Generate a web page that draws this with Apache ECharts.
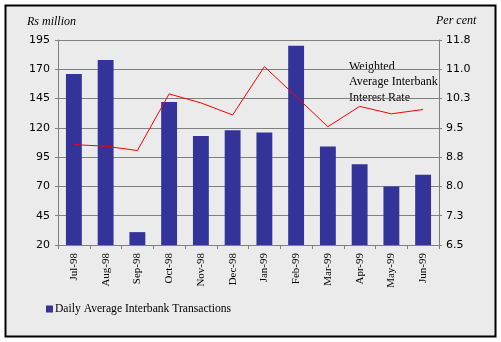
<!DOCTYPE html>
<html><head><meta charset="utf-8">
<script src="https://cdn.jsdelivr.net/npm/echarts@6/dist/echarts.min.js"></script>
<style>html,body{margin:0;padding:0;background:#fff}#c{width:501px;height:342px}</style>
</head><body><div id="c"></div>
<script>
const categories = ['Jul-98','Aug-98','Sep-98','Oct-98','Nov-98','Dec-98','Jan-99','Feb-99','Mar-99','Apr-99','May-99','Jun-99'];
const transactions = [166, 178, 31, 142, 113, 118, 116, 190, 104, 89, 70, 80];
const interestRate = [9.07, 9.03, 8.92, 10.37, 10.14, 9.83, 11.07, 10.3, 9.53, 10.05, 9.86, 9.97];
const leftTicks = {min: 20, max: 195, interval: 25};
const rightTicks = {min: 6.5, max: 11.75, interval: 0.75};

const chart = echarts.init(document.getElementById('c'), null, {renderer: 'canvas'});
const serif = '"Liberation Serif", "DejaVu Serif", serif';
const sans = '"DejaVu Sans", Verdana, sans-serif';
chart.setOption({
  animation: false,
  backgroundColor: '#ffffff',
  graphic: [
    {type: 'rect', z: -10, silent: true, shape: {x: 5.5, y: 5.5, width: 490, height: 331},
     style: {fill: '#EBEBEB', stroke: '#000', lineWidth: 2}},
    {type: 'text', left: 27, top: 16, style: {text: 'Rs million', font: 'italic 12px ' + serif, fill: '#000'}},
    {type: 'text', left: 436, top: 15, style: {text: 'Per cent', font: 'italic 12px ' + serif, fill: '#000'}},
    {type: 'text', left: 349, top: 59, style: {text: 'Weighted\nAverage Interbank\nInterest Rate', font: '12px ' + serif, lineHeight: 15.5, fill: '#000'}}
  ],
  grid: {left: 58, right: 62, top: 40, bottom: 97, containLabel: false},
  legend: {
    data: [{name: 'Daily Average Interbank Transactions'}],
    left: 41, top: 298, itemWidth: 7, itemHeight: 7, itemGap: 2,
    textStyle: {fontFamily: serif, fontSize: 11.6, color: '#000', padding: [0, 0, 0, -3]},
    icon: 'rect'
  },
  xAxis: {
    type: 'category', data: categories, boundaryGap: true,
    axisLine: {lineStyle: {color: '#808080', width: 1}},
    axisTick: {show: true, length: 4, alignWithLabel: false, lineStyle: {color: '#808080'}},
    axisLabel: {rotate: 90, interval: 0, margin: 8, fontFamily: serif, fontSize: 11, color: '#000'}
  },
  yAxis: [
    {type: 'value', min: leftTicks.min, max: leftTicks.max, interval: leftTicks.interval,
     axisLine: {show: true, lineStyle: {color: '#808080'}},
     axisTick: {show: true, length: 3, lineStyle: {color: '#808080'}},
     splitLine: {show: true, lineStyle: {color: '#808080', width: 1}},
     axisLabel: {fontFamily: sans, fontSize: 11, color: '#000', margin: 8}},
    {type: 'value', min: rightTicks.min, max: rightTicks.max, interval: rightTicks.interval,
     position: 'right',
     axisLine: {show: true, lineStyle: {color: '#808080'}},
     axisTick: {show: true, length: 3, lineStyle: {color: '#808080'}},
     splitLine: {show: false},
     axisLabel: {fontFamily: sans, fontSize: 11, color: '#000', margin: 7,
       formatter: v => (Math.round(v * 100) / 100).toFixed(1)}}
  ],
  series: [
    {name: 'Daily Average Interbank Transactions', type: 'bar', data: transactions,
     barWidth: '50%', itemStyle: {color: '#333399'}, yAxisIndex: 0},
    {name: 'Weighted Average Interbank Interest Rate', type: 'line', data: interestRate,
     yAxisIndex: 1, symbol: 'none', lineStyle: {color: '#FF0000', width: 1}, z: 5}
  ]
});
</script></body></html>
